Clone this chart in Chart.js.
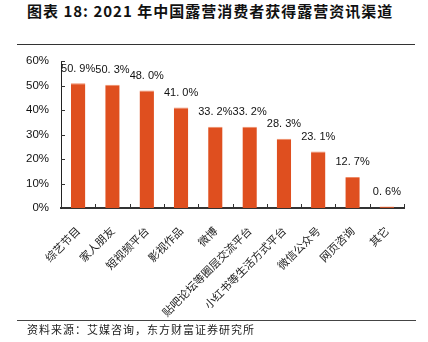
<!DOCTYPE html>
<html><head><meta charset="utf-8">
<script src="https://cdn.jsdelivr.net/npm/chart.js@4"></script>
<style>
html,body{margin:0;padding:0;background:#fff;}
#wrap{position:relative;width:428px;height:342px;overflow:hidden;background:#fff;}
#title{position:absolute;left:27px;top:1px;font-weight:bold;font-size:15px;font-family:"Noto Sans CJK SC";letter-spacing:1px;color:#111;white-space:nowrap;line-height:20px;}
#topline{position:absolute;left:17px;top:44px;width:398px;height:1px;background:#333;}
#botline{position:absolute;left:17px;top:320px;width:399px;height:1px;background:#444;}
#source{position:absolute;left:27px;top:321px;font-size:11px;font-family:"Noto Sans CJK SC";letter-spacing:1px;color:#222;white-space:nowrap;line-height:16px;}
canvas{position:absolute;left:0;top:0;}
</style>
</head><body>
<div id="wrap">
<div id="title">图表 18: 2021 年中国露营消费者获得露营资讯渠道</div>
<div id="topline"></div>
<canvas id="c" width="428" height="342"></canvas>
<div id="botline"></div>
<div id="source">资料来源：艾媒咨询，东方财富证券研究所</div>
</div>
<script>
const categories = ['综艺节目','家人朋友','短视频平台','影视作品','微博','贴吧论坛等圈层交流平台','小红书等生活方式平台','微信公众号','网页咨询','其它'];
const values = [50.9,50.3,48.0,41.0,33.2,33.2,28.3,23.1,12.7,0.6];
const yTickValues = [0,10,20,30,40,50,60];

const fmt = v => v.toFixed(1).replace('.', '. ') + '%';

const valueLabels = {
  id: 'valueLabels',
  afterDatasetsDraw(chart) {
    const ctx = chart.ctx;
    const meta = chart.getDatasetMeta(0);
    ctx.save();
    ctx.font = '11px "Liberation Sans"';
    ctx.fillStyle = '#111';
    ctx.textAlign = 'center';
    ctx.textBaseline = 'bottom';
    meta.data.forEach((bar, i) => {
      ctx.fillText(fmt(values[i]), bar.x, bar.y - 9);
    });
    ctx.restore();
  }
};

const innerTicks = {
  id: 'innerTicks',
  afterDraw(chart) {
    const ctx = chart.ctx;
    const xs = chart.scales.x, ys = chart.scales.y;
    ctx.save();
    ctx.strokeStyle = '#333';
    ctx.lineWidth = 1;
    const n = categories.length;
    const bounds = [xs.left];
    for (let i = 1; i < n; i++) bounds.push((xs.getPixelForValue(i - 1) + xs.getPixelForValue(i)) / 2);
    bounds.push(xs.right);
    ctx.beginPath();
    bounds.forEach(x => { const px = Math.round(x) + 0.5; ctx.moveTo(px, xs.top); ctx.lineTo(px, xs.top - 4); });
    yTickValues.forEach(v => {
      if (v === 0) return;
      const py = Math.round(ys.getPixelForValue(v)) + 0.5;
      ctx.moveTo(ys.right, py); ctx.lineTo(ys.right + 4, py);
    });
    ctx.stroke();
    ctx.restore();
  }
};

new Chart(document.getElementById('c'), {
  type: 'bar',
  data: {
    labels: categories,
    datasets: [{
      data: values,
      backgroundColor: '#DF4F1F',
      borderColor: '#EE8A66',
      borderWidth: {top: 1, left: 0, right: 0, bottom: 0},
      barPercentage: 0.42,
      categoryPercentage: 1.0
    }]
  },
  options: {
    responsive: false,
    animation: false,
    devicePixelRatio: 1,
    layout: { padding: { left: 0, top: 61, right: 24, bottom: 0 } },
    plugins: { legend: { display: false }, tooltip: { enabled: false }, title: { display: false } },
    scales: {
      x: {
        grid: { display: false, drawTicks: false },
        border: { display: true, color: '#333', width: 2 },
        ticks: {
          minRotation: 45, maxRotation: 45, autoSkip: false,
          font: { family: '"Noto Sans CJK SC"', size: 11 },
          color: '#222', padding: 16
        },
        afterFit(scale) { scale.height = 134; }
      },
      y: {
        min: 0, max: 60,
        afterBuildTicks(scale) { scale.ticks = yTickValues.map(v => ({ value: v })); },
        grid: { display: false, drawTicks: false },
        border: { display: true, color: '#222', width: 1 },
        ticks: {
          callback: v => v + '%',
          font: { family: '"Liberation Sans"', size: 11.5 },
          color: '#111', padding: 12
        },
        afterFit(scale) { scale.width = 61; }
      }
    }
  },
  plugins: [valueLabels, innerTicks]
});
</script>
</body></html>
